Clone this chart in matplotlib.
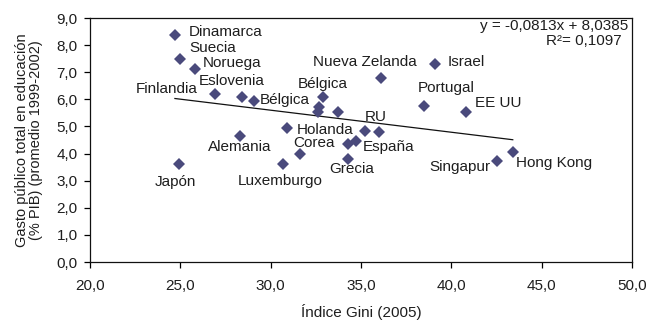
import matplotlib
matplotlib.use("Agg")
import matplotlib.pyplot as plt
from matplotlib.ticker import FuncFormatter

plt.rcParams['font.family'] = ['Liberation Sans', 'DejaVu Sans']

# data: (label, gini, gasto)
labels = ["Dinamarca", "Suecia", "Noruega", "Finlandia", "Eslovenia", "Bélgica",
          "Bélgica", "", "", "", "Holanda", "Alemania", "Nueva Zelanda", "Israel",
          "Portugal", "EE UU", "RU", "", "España", "", "Grecia", "Corea",
          "Luxemburgo", "Japón", "Singapur", "Hong Kong"]
gini = [24.7, 25.0, 25.8, 26.9, 28.4, 29.1,
        32.9, 32.7, 32.6, 33.7, 30.9, 28.3, 36.1, 39.1,
        38.5, 40.8, 35.2, 36.0, 34.7, 34.3, 34.3, 31.6,
        30.7, 24.9, 42.5, 43.4]
gasto = [8.38, 7.49, 7.12, 6.20, 6.09, 5.94,
         6.09, 5.72, 5.54, 5.54, 4.94, 4.65, 6.78, 7.29,
         5.76, 5.55, 4.85, 4.78, 4.46, 4.34, 3.80, 3.97,
         3.60, 3.60, 3.74, 4.07]
# label offsets in pixels (dx, dy downwards), alignment
label_style = {
    "Dinamarca": (14, -3, 'left'),
    "Suecia": (9, -11, 'left'),
    "Noruega": (8, -6, 'left'),
    "Finlandia": (-17, -5, 'right'),
    "Eslovenia": (-10, -16, 'center'),
    "Bélgica": (5, -1, 'left'),
    "Holanda": (10, 2, 'left'),
    "Alemania": (0, 11, 'center'),
    "Nueva Zelanda": (-16, -16, 'center'),
    "Israel": (13, -2, 'left'),
    "Portugal": (22, -18, 'center'),
    "EE UU": (9, -9, 'left'),
    "RU": (11, -14, 'center'),
    "España": (7, 6, 'left'),
    "Grecia": (3, 10, 'center'),
    "Corea": (14, -11, 'center'),
    "Luxemburgo": (-3, 17, 'center'),
    "Japón": (-3, 18, 'center'),
    "Singapur": (-6, 6, 'right'),
    "Hong Kong": (3, 11, 'left'),
}
belgica2_style = (0, -13, 'center')

slope = -0.0813
intercept = 8.0385
r2 = 0.1097

xticks = [20, 25, 30, 35, 40, 45, 50]
yticks = [0, 1, 2, 3, 4, 5, 6, 7, 8, 9]

fig = plt.figure(figsize=(6.46, 3.22), dpi=100)
ax = fig.add_axes([90/646, 1-262/322, 542/646, 244/322])

marker_color = '#4a4a7c'
txt_color = '#1e1e1e'
ax.plot(gini, gasto, linestyle='none', marker='D', markersize=5.8,
        color=marker_color, markeredgewidth=0, zorder=3)

xmin, xmax = min(gini), max(gini)
ax.plot([xmin, xmax], [slope*xmin+intercept, slope*xmax+intercept],
        color='#111111', lw=0.9, zorder=2)

seen_belgica = 0
for lab, x, y in zip(labels, gini, gasto):
    if not lab:
        continue
    if lab == "Bélgica":
        seen_belgica += 1
        dx, dy, ha = label_style[lab] if seen_belgica == 1 else belgica2_style
    else:
        dx, dy, ha = label_style[lab]
    ax.annotate(lab, (x, y), xytext=(dx, -dy), textcoords='offset pixels',
                ha=ha, va='center', fontsize=11, color=txt_color)

def fmt(v, pos):
    return f"{v:.1f}".replace('.', ',')

ax.set_xlim(20, 50)
ax.set_ylim(0, 9)
ax.set_xticks(xticks)
ax.set_yticks(yticks)
ax.xaxis.set_major_formatter(FuncFormatter(fmt))
ax.yaxis.set_major_formatter(FuncFormatter(fmt))
ax.tick_params(axis='both', direction='out', length=4, width=0.9,
               labelsize=11, labelcolor=txt_color)
ax.tick_params(axis='x', pad=8)
ax.tick_params(axis='y', pad=5)
for s in ax.spines.values():
    s.set_linewidth(0.9)
    s.set_color('#111111')

eq = f"y = {slope:.4f}x + {intercept:.4f}".replace('.', ',')
fig.text(628/646, 1-26/322, eq, ha='right', va='center', fontsize=11, color=txt_color)
fig.text(584/646, 1-41/322, ("R² = " + f"{r2:.4f}".replace('.', ',')).replace(" =", "="),
         ha='center', va='center', fontsize=11, color=txt_color)

fig.text(361/646, 1-312/322, "Índice Gini (2005)", ha='center', va='center',
         fontsize=11, color=txt_color)
fig.text(29/646, 1-140/322,
         "Gasto público total en educación\n(% PIB) (promedio 1999-2002)",
         rotation=90, ha='center', va='center', multialignment='center',
         fontsize=10.5, color=txt_color, linespacing=1.05)

fig.savefig('out.png', dpi=100)
